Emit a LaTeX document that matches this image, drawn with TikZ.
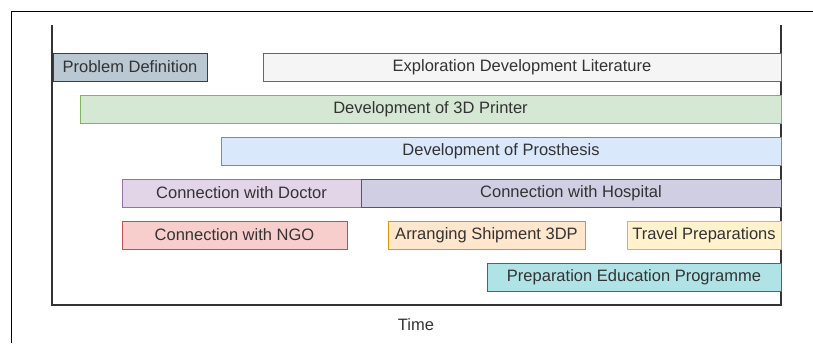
\documentclass[tikz,border=0pt]{standalone}
\usepackage{fontspec}
\setmainfont{Liberation Sans}
\definecolor{txt}{HTML}{333333}
\definecolor{axis}{HTML}{333333}
\definecolor{pdfill}{HTML}{BAC8D3}\definecolor{pdline}{HTML}{23445D}
\definecolor{grfill}{HTML}{F5F5F5}\definecolor{grline}{HTML}{666666}
\definecolor{gnfill}{HTML}{D5E8D4}\definecolor{gnline}{HTML}{82B366}
\definecolor{blfill}{HTML}{DAE8FC}\definecolor{blline}{HTML}{6C8EBF}
\definecolor{pufill}{HTML}{E1D5E7}\definecolor{puline}{HTML}{9673A6}
\definecolor{slfill}{HTML}{D0CEE2}\definecolor{slline}{HTML}{56517E}
\definecolor{rdfill}{HTML}{F8CECC}\definecolor{rdline}{HTML}{B85450}
\definecolor{orfill}{HTML}{FFE6CC}\definecolor{orline}{HTML}{D79B00}
\definecolor{ylfill}{HTML}{FFF2CC}\definecolor{ylline}{HTML}{D6B656}
\definecolor{tlfill}{HTML}{B0E3E6}\definecolor{tlline}{HTML}{0E8088}
\tikzset{
  bar/.style 2 args={draw=#2, fill=#1, line width=1pt, rectangle, inner sep=0pt,
    minimum height=28pt, text=txt, font=\fontsize{16.5}{19}\selectfont},
}
\begin{document}
\begin{tikzpicture}[x=1pt, y=-1pt]
\useasboundingbox (0,0) rectangle (813,343);
% outer frame (top and left edges)
\coordinate (fbl) at (11,343);
\coordinate (ftl) at (11,11);
\coordinate (ftr) at (813,11);
\draw[black, line width=1pt] (fbl) -- (ftl) -- (ftr);
% time axis box
\coordinate (atl) at (52,25);
\coordinate (abl) at (52,305);
\coordinate (abr) at (781,305);
\coordinate (atr) at (781,25);
\draw[axis, line width=1.5pt] (atl) -- (abl) -- (abr) -- (atr);
% activity bars
\node[bar={pdfill}{pdline}, minimum width=154pt] (pd) at (130,67) {Problem Definition};
\node[bar={grfill}{grline}, minimum width=518pt] (edl) at (522,67) {Exploration Development Literature};
\node[bar={gnfill}{gnline}, minimum width=701pt] (dp) at (430.5,109) {Development of 3D Printer};
\node[bar={blfill}{blline}, minimum width=560pt] (dpr) at (501,151) {Development of Prosthesis};
\node[bar={pufill}{puline}, minimum width=239pt] (cd) at (241.5,193) {Connection with Doctor};
\node[bar={slfill}{slline}, minimum width=420pt] (ch) at (571,193) {Connection with Hospital};
\node[bar={rdfill}{rdline}, minimum width=225pt] (cn) at (234.5,235) {Connection with NGO};
\node[bar={orfill}{orline}, minimum width=197pt] (as) at (486.5,235) {Arranging Shipment 3DP};
\node[bar={ylfill}{ylline}, minimum width=154pt] (tp) at (704,235) {Travel Preparations};
\node[bar={tlfill}{tlline}, minimum width=294pt] (pe) at (634,277) {Preparation Education Programme};
% axis label
\node[text=txt, font=\fontsize{16.5}{19}\selectfont, inner sep=0pt] (time) at (416,325) {Time};
\end{tikzpicture}
\end{document}
